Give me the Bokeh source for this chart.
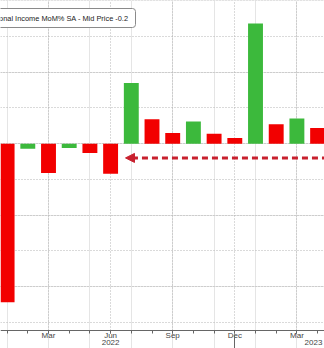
from bokeh.plotting import figure
from bokeh.models import (Range1d, FixedTicker, LinearAxis, Grid, Label, Arrow,
                          NormalHead, ColumnDataSource, BoxAnnotation)
from bokeh.embed import file_html
from bokeh.resources import INLINE

# ---- data ----
months = ["Jan", "Feb", "Mar", "Apr", "May", "Jun", "Jul", "Aug",
          "Sep", "Oct", "Nov", "Dec", "Jan", "Feb", "Mar", "Apr"]
years = [2022] * 12 + [2023] * 4
values = [-2.22, -0.07, -0.41, -0.06, -0.13, -0.42, 0.85, 0.34,
          0.15, 0.31, 0.14, 0.08, 1.68, 0.27, 0.35, 0.22]
consensus = -0.2
series_label = "Personal Income MoM% SA - Mid Price"
major_months = ["Mar", "Jun", "Sep", "Dec"]
year_labels = ["2022", "2023"]
year_label_pos = [5, 14.8]
grid_levels = [-2.5, -2.0, -1.5, -1.0, -0.5, 0.0, 0.5, 1.0, 1.5, 2.0]

RED = "#f20000"
GREEN = "#3cb93c"
ARROW = "#c8202e"
FONT = "Liberation Sans"

x = list(range(len(values)))
colors = [RED] + [GREEN if values[i] > values[i - 1] else RED for i in range(1, len(values))]
src = ColumnDataSource(dict(x=x, value=values, color=colors))

y_bottom, y_top = -2.867, 2.003
y_axis_at = -2.615
p = figure(width=324, height=348, x_range=Range1d(-0.319, 15.333), y_range=Range1d(y_bottom, y_top),
           output_backend="svg", toolbar_location=None,
           x_axis_location=None, y_axis_location=None, min_border=0)
p.outline_line_color = None
p.background_fill_color = "white"
p.border_fill_color = "white"

major_idx = [i for i in x if months[i] in major_months]

xg = Grid(dimension=0, ticker=FixedTicker(ticks=major_idx),
          grid_line_color="#b5b5b5", grid_line_dash="1 2", grid_line_width=1)
yg = Grid(dimension=1, ticker=FixedTicker(ticks=grid_levels),
          grid_line_color="#b5b5b5", grid_line_dash="1 2", grid_line_width=1)
has_cb = "cross_bounds" in Grid.properties()
if has_cb:
    xg.cross_bounds = (y_axis_at, y_top)
p.add_layout(xg)
p.add_layout(yg)
if not has_cb:
    p.add_layout(BoxAnnotation(top=y_axis_at, fill_color="white", fill_alpha=1,
                               line_color=None, level="underlay"))

p.vbar(x="x", top="value", bottom=0, width=0.72, fill_color="color", line_color=None, source=src)

arrow = Arrow(x_start=15.5, y_start=consensus, x_end=5.72, y_end=consensus,
              line_color=ARROW, line_width=3, line_dash="6 4",
              end=NormalHead(size=9, fill_color=ARROW, line_color=ARROW, line_width=1))
p.add_layout(arrow)

lab = Label(x=135, y=330.5, x_units="screen", y_units="screen",
            text=f"{series_label}  {consensus}", text_align="right", text_baseline="middle",
            text_font=FONT, text_font_size="7.4px", text_color="#222",
            border_line_color="#8a8a8a", background_fill_color="white",
            padding=5, border_radius=3)
p.add_layout(lab)

month_axis = LinearAxis(ticker=FixedTicker(ticks=major_idx, minor_ticks=x), fixed_location=y_axis_at,
                        major_label_overrides={i: months[i] for i in major_idx},
                        major_label_text_font=FONT, major_label_text_font_size="8px",
                        major_label_text_color="#444", major_label_standoff=-2,
                        axis_line_color="#666", major_tick_line_color="#666",
                        minor_tick_line_color="#666",
                        major_tick_in=0, major_tick_out=3, minor_tick_in=0, minor_tick_out=3)
p.add_layout(month_axis, "below")

year_axis = LinearAxis(ticker=FixedTicker(ticks=year_label_pos), fixed_location=y_axis_at,
                       major_label_overrides={year_label_pos[k]: year_labels[k] for k in range(2)},
                       major_label_text_font=FONT, major_label_text_font_size="8px",
                       major_label_text_color="#444", major_label_standoff=10,
                       axis_line_color=None, major_tick_line_color=None, minor_tick_line_color=None,
                       major_tick_in=0, major_tick_out=0)
p.add_layout(year_axis, "below")

sep_idx = [i for i in x if months[i] == "Dec"]
sep_axis = LinearAxis(ticker=FixedTicker(ticks=sep_idx), fixed_location=y_axis_at,
                      major_label_overrides={i: " " for i in sep_idx},
                      major_label_text_font=FONT, major_label_text_font_size="8px",
                      axis_line_color=None, major_tick_line_color="#666", minor_tick_line_color=None,
                      major_tick_in=-4, major_tick_out=18)
p.add_layout(sep_axis, "below")

open("out.html", "w").write(file_html(p, INLINE))
